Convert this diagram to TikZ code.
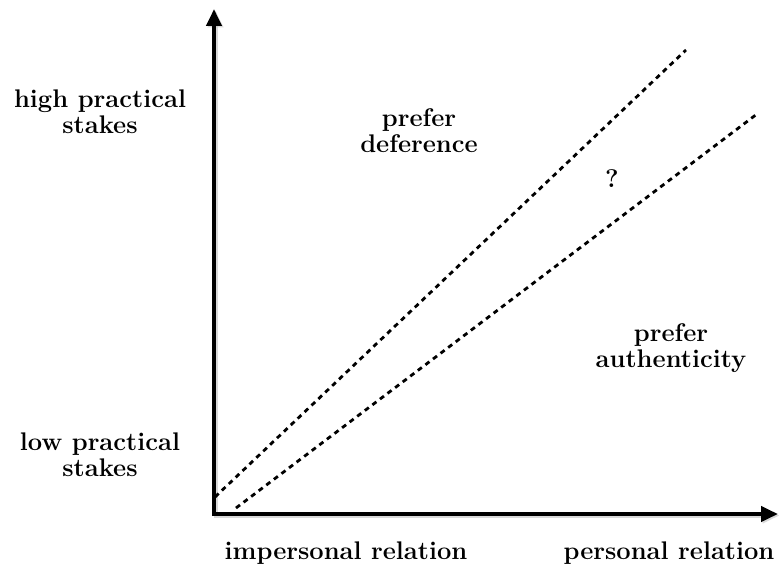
\documentclass[tikz,border=0pt]{standalone}
\usepackage{tikz}
\usetikzlibrary{positioning}
\usetikzlibrary{arrows.meta,calc}

\begin{document}
\begin{tikzpicture}[
  x=1pt, y=-1pt,
  axis/.style={line width=4pt, line join=miter,
    {Triangle[width=15pt,length=17pt]}-{Triangle[width=15pt,length=17pt]}},
  axis shadow/.style={axis, draw=black!25, opacity=0.6},
  border line/.style={line width=2.8pt, dash pattern=on 5pt off 4.5pt},
  lbl/.style={font=\bfseries\fontsize{25.5}{26}\selectfont, align=center, inner sep=0pt}
]
  \useasboundingbox (0,0) rectangle (779,567);

  % axes
  \coordinate (o) at (214,514);
  \coordinate (ytip) at (214,9);
  \coordinate (xtip) at (778,514);
  \draw[axis shadow] ($(ytip)+(1.5,1.5)$) -- ($(o)+(1.5,1.5)$) -- ($(xtip)+(1.5,1.5)$);
  \draw[axis] (ytip) -- (o) -- (xtip);

  % the two dividing lines
  \coordinate (upper start) at (215,497);
  \coordinate (upper end) at (686,50);
  \coordinate (lower start) at (236,508);
  \coordinate (lower end) at (757,114);
  \draw[border line] (upper start) -- (upper end);
  \draw[border line] (lower start) -- (lower end);

  % labels
  \node[lbl] (high) at (100,112) {high practical\\stakes};
  \node[lbl] (low) at (100,455) {low practical\\stakes};
  \node[lbl] (impersonal) at (346,553) {impersonal relation};
  \node[lbl] (personal) at (669,553) {personal relation};
  \node[lbl] (deference) at (419,131) {prefer\\deference};
  \node[lbl] (unsure) at (612,179) {?};
  \node[lbl] (authenticity) at (671,348) {prefer\\authenticity};
\end{tikzpicture}
\end{document}
